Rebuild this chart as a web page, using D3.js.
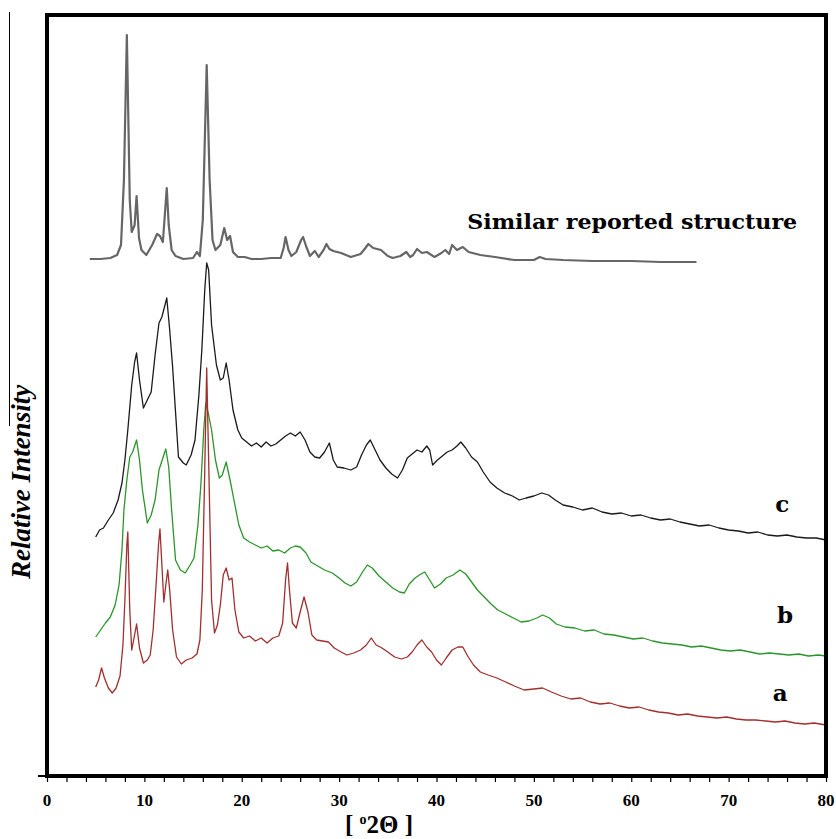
<!DOCTYPE html>
<html>
<head>
<meta charset="utf-8">
<script src="https://cdn.jsdelivr.net/npm/d3@7"></script>
<style>
  html, body { margin: 0; padding: 0; background: #fff; }
  svg { display: block; }
</style>
</head>
<body>
<div id="chart"></div>
<script>
// 2theta (deg), intensity (a.u., stacked offsets included)
const reported = [[4.4,517],[5.5,517],[6.5,518],[7.2,521],[7.6,531],[7.9,596],[8.2,741],[8.5,576],[8.7,544],[9.0,551],[9.2,580],[9.45,538],[9.7,526],[10.2,521],[10.8,531],[11.3,542],[11.6,540],[11.9,534],[12.1,561],[12.3,588],[12.5,551],[12.8,526],[13.2,520],[14.0,517],[15.0,518],[15.4,524],[15.7,520],[16.0,556],[16.4,711],[16.7,596],[17.0,536],[17.3,526],[17.8,531],[18.2,548],[18.5,536],[18.8,540],[19.1,524],[19.6,519],[20.3,519],[21.0,517],[22.0,517],[23.0,518],[24.0,518],[24.3,528],[24.5,539],[24.8,526],[25.1,520],[25.6,524],[26.1,536],[26.3,539],[26.6,530],[27.0,520],[27.5,525],[27.9,519],[28.4,526],[28.7,532],[29.0,527],[29.4,525],[30.2,523],[31.2,519],[32.2,522],[32.7,528],[33.0,532],[33.5,528],[34.3,526],[35.0,520],[35.5,518],[36.3,520],[36.9,524],[37.3,519],[37.6,521],[38.0,527],[38.5,523],[39.0,524],[39.8,519],[40.5,523],[40.9,526],[41.3,522],[41.6,531],[42.1,526],[42.7,529],[43.3,524],[44.5,521],[46.0,519],[48.0,516],[50.0,516],[50.6,519],[51.2,517],[53.0,516],[56.0,515],[60.0,515],[63.0,514],[66.7,514]];

const sampleC = [[5.0,239],[5.4,246],[5.8,248],[6.3,256],[6.8,263],[7.3,276],[7.7,293],[8.0,316],[8.3,346],[8.7,391],[9.0,414],[9.2,423],[9.5,396],[9.9,368],[10.3,376],[10.7,384],[11.1,421],[11.5,453],[11.8,459],[12.3,478],[12.6,446],[12.9,409],[13.5,319],[14.0,313],[14.3,311],[14.8,321],[15.2,336],[15.6,381],[15.9,426],[16.2,486],[16.4,513],[16.6,506],[16.9,451],[17.4,411],[17.8,396],[18.1,398],[18.4,413],[18.7,396],[19.1,366],[19.6,346],[20.0,338],[20.5,334],[21.0,330],[21.5,333],[22.0,329],[22.5,334],[23.0,330],[23.5,332],[24.0,336],[24.5,340],[25.0,343],[25.5,340],[26.0,344],[26.5,336],[27.0,324],[27.5,319],[28.0,318],[28.5,324],[29.0,333],[29.4,316],[29.8,309],[30.5,308],[31.2,306],[31.8,309],[32.3,321],[32.8,331],[33.2,336],[33.7,326],[34.2,316],[34.8,308],[35.4,302],[36.0,298],[36.5,306],[37.0,318],[37.5,322],[38.0,326],[38.5,324],[39.0,330],[39.3,326],[39.6,311],[40.1,316],[40.6,320],[41.1,324],[41.6,326],[42.1,330],[42.5,334],[43.0,328],[43.6,319],[44.2,314],[44.8,304],[45.5,294],[46.2,288],[47.0,283],[47.8,280],[48.5,276],[49.2,278],[50.0,280],[50.8,283],[51.5,281],[52.2,276],[53.0,271],[54.0,269],[55.0,266],[56.0,268],[57.0,264],[58.0,262],[59.0,263],[60.0,260],[61.0,261],[62.0,258],[63.0,256],[64.0,257],[65.0,254],[66.0,252],[67.0,250],[68.0,251],[69.0,248],[70.0,246],[71.0,245],[72.0,243],[73.0,244],[74.0,241],[75.0,240],[76.0,241],[77.0,239],[78.0,238],[79.0,238],[80.0,236]];

const sampleB = [[5.0,139],[5.5,146],[6.0,153],[6.5,159],[7.0,171],[7.4,191],[7.7,226],[7.9,266],[8.2,296],[8.5,319],[8.8,324],[9.2,336],[9.5,316],[9.8,286],[10.3,253],[10.7,261],[11.1,276],[11.5,306],[11.9,318],[12.2,327],[12.5,309],[12.8,266],[13.2,216],[13.7,206],[14.2,203],[14.7,211],[15.1,218],[15.5,251],[15.8,291],[16.1,346],[16.3,373],[16.6,361],[16.9,346],[17.3,316],[17.7,298],[18.0,301],[18.4,314],[18.8,296],[19.2,276],[19.7,251],[20.2,238],[20.8,234],[21.4,231],[22.0,228],[22.6,230],[23.2,225],[23.8,226],[24.4,223],[25.0,228],[25.5,230],[26.0,229],[26.6,223],[27.1,214],[27.8,210],[28.5,206],[29.3,203],[30.0,198],[30.6,193],[31.2,190],[31.8,194],[32.4,204],[32.9,211],[33.4,208],[34.1,200],[34.8,194],[35.5,188],[36.2,184],[36.7,183],[37.2,192],[37.8,198],[38.4,202],[38.8,204],[39.3,196],[39.8,188],[40.4,192],[41.0,198],[41.7,201],[42.4,206],[43.0,202],[43.6,194],[44.2,186],[44.9,179],[45.6,172],[46.3,166],[47.1,162],[47.9,158],[48.7,154],[49.5,155],[50.3,158],[50.9,161],[51.6,158],[52.3,152],[53.2,149],[54.2,148],[55.2,145],[56.2,146],[57.2,142],[58.2,141],[59.2,139],[60.2,137],[61.2,138],[62.2,135],[63.2,133],[64.2,132],[65.2,131],[66.2,129],[67.2,130],[68.2,128],[69.2,126],[70.2,125],[71.2,126],[72.2,124],[73.2,122],[74.2,123],[75.2,122],[76.2,121],[77.2,122],[78.2,120],[79.2,121],[80.0,120]];

const sampleA = [[5.0,89],[5.3,96],[5.6,108],[5.9,98],[6.3,88],[6.7,83],[7.1,88],[7.5,100],[7.8,131],[8.0,176],[8.2,231],[8.3,244],[8.5,166],[8.7,126],[8.9,136],[9.2,152],[9.5,128],[9.9,113],[10.3,116],[10.6,121],[10.9,146],[11.2,191],[11.45,231],[11.6,247],[11.8,211],[12.0,174],[12.2,191],[12.4,206],[12.6,186],[12.9,146],[13.3,119],[13.8,112],[14.3,116],[14.9,118],[15.4,122],[15.7,136],[15.95,186],[16.2,306],[16.4,408],[16.6,316],[16.9,176],[17.2,143],[17.5,151],[17.8,171],[18.1,201],[18.4,208],[18.7,196],[19.0,198],[19.3,166],[19.7,144],[20.2,138],[20.8,140],[21.4,135],[22.0,138],[22.6,133],[23.2,138],[23.8,140],[24.2,153],[24.5,196],[24.7,213],[24.9,186],[25.2,153],[25.6,148],[26.0,164],[26.4,179],[26.8,164],[27.2,141],[27.7,136],[28.3,135],[28.9,134],[29.5,128],[30.2,124],[30.8,121],[31.5,123],[32.2,126],[32.8,131],[33.3,138],[33.8,131],[34.4,128],[35.0,124],[35.7,119],[36.4,117],[37.0,119],[37.5,124],[38.0,131],[38.5,136],[39.0,129],[39.5,124],[40.0,116],[40.5,111],[41.0,118],[41.6,126],[42.2,129],[42.7,129],[43.2,120],[43.8,111],[44.5,104],[45.3,101],[46.2,98],[47.1,94],[48.0,90],[49.0,86],[50.0,87],[50.9,88],[51.8,84],[52.8,80],[53.8,77],[54.8,78],[55.8,74],[56.8,72],[57.8,73],[58.8,70],[59.8,68],[60.8,69],[61.8,66],[62.8,64],[63.8,63],[64.8,61],[65.8,62],[66.8,60],[67.8,59],[68.8,58],[69.8,59],[70.8,57],[71.8,56],[72.8,56],[73.8,55],[74.8,54],[75.8,55],[76.8,53],[77.8,52],[78.8,53],[80.0,51]];

const xTicks = [0, 10, 20, 30, 40, 50, 60, 70, 80];
const seriesNames = ['Similar reported structure', 'c', 'b', 'a'];

const width = 836, height = 839;
const margin = {top: 15, right: 10, bottom: 63, left: 47};
const W = width - margin.left - margin.right;
const H = height - margin.top - margin.bottom;

const svg = d3.select('#chart').append('svg')
  .attr('width', width)
  .attr('height', height);

// stray thin rule at far left, present in the original figure
svg.append('line')
  .attr('x1', 9.5).attr('x2', 9.5)
  .attr('y1', 12).attr('y2', 426)
  .attr('stroke', '#000').attr('stroke-width', 1);

const g = svg.append('g').attr('transform', `translate(${margin.left},${margin.top})`);

const x = d3.scaleLinear().domain([0, 80]).range([0, W]);
const y = d3.scaleLinear().domain([0, 761]).range([H, 0]);

// minor ticks every 2 deg
const xAxis = g.append('g')
  .attr('transform', `translate(0,${H})`)
  .call(d3.axisBottom(x).tickValues(d3.range(0, 81, 2)).tickSize(6).tickFormat(''));
xAxis.select('.domain').remove();
xAxis.selectAll('.tick line').attr('stroke', '#000').attr('stroke-width', 1.2);

g.append('g').selectAll('text')
  .data(xTicks)
  .enter().append('text')
    .attr('x', d => x(d))
    .attr('y', H + 30)
    .attr('text-anchor', 'middle')
    .style('font-family', '"Liberation Serif", serif')
    .style('font-weight', 'bold')
    .style('font-size', '17px')
    .text(d => d);

// y tick at origin
g.append('line')
  .attr('x1', -9).attr('x2', 0)
  .attr('y1', y(0)).attr('y2', y(0))
  .attr('stroke', '#000').attr('stroke-width', 2);

const line = d3.line()
  .x(d => x(d[0]))
  .y(d => y(d[1]));

const traces = [
  {data: reported, color: '#666666', w: 2.2},
  {data: sampleC,  color: '#1a1a1a', w: 1.3},
  {data: sampleB,  color: '#2a962a', w: 1.3},
  {data: sampleA,  color: '#a32e2e', w: 1.3}
];

g.selectAll('path.trace')
  .data(traces)
  .enter().append('path')
    .attr('class', 'trace')
    .attr('d', d => line(d.data))
    .attr('fill', 'none')
    .attr('stroke', d => d.color)
    .attr('stroke-width', d => d.w)
    .attr('stroke-linejoin', 'round');

// frame
g.append('rect')
  .attr('x', 0).attr('y', 0)
  .attr('width', W).attr('height', H)
  .attr('fill', 'none')
  .attr('stroke', '#000')
  .attr('stroke-width', 4);

// trace labels
const labelPos = [[60.1, 554], [75.5, 273], [75.8, 162], [75.3, 84]];
seriesNames.forEach((name, i) => {
  const t = g.append('text')
    .attr('x', x(labelPos[i][0]))
    .attr('y', y(labelPos[i][1]))
    .attr('text-anchor', 'middle')
    .attr('dominant-baseline', 'central')
    .style('font-family', '"DejaVu Serif", serif')
    .style('font-weight', 'bold')
    .style('font-size', i === 0 ? '20px' : '23px')
    .text(name);
  if (i === 0) t.attr('textLength', 330).attr('lengthAdjust', 'spacingAndGlyphs');
});

// axis titles
svg.append('text')
  .attr('x', 379)
  .attr('y', 833)
  .attr('text-anchor', 'middle')
  .style('font-family', '"Liberation Serif", serif')
  .style('font-weight', 'bold')
  .style('font-size', '25px')
  .html('[ <tspan dy="-9" font-size="14">o</tspan><tspan dy="9">2Θ ]</tspan>');

svg.append('text')
  .attr('transform', 'translate(30,482) rotate(-90)')
  .attr('text-anchor', 'middle')
  .style('font-family', '"Liberation Serif", serif')
  .style('font-weight', 'bold')
  .style('font-style', 'italic')
  .style('font-size', '27px')
  .text('Relative Intensity');
</script>
</body>
</html>
